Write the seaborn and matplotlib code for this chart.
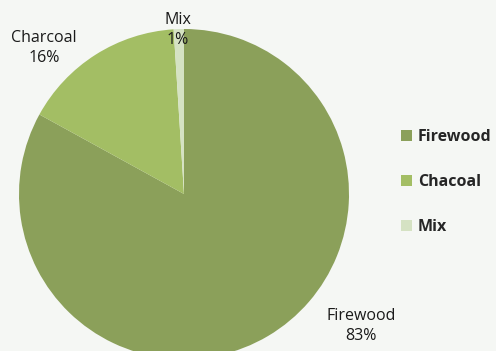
import matplotlib
matplotlib.use("Agg")
import matplotlib.pyplot as plt
import seaborn as sns
from matplotlib.patches import Patch

categories = ["Firewood", "Charcoal", "Mix"]
legend_labels = ["Firewood", "Chacoal", "Mix"]
values = [83, 16, 1]
pct_labels = ["83%", "16%", "1%"]
colors = ["#8ba05a", "#a3be64", "#d5e2c3"]

sns.set_theme(style="white")
plt.rcParams['font.family'] = ['Open Sans', 'DejaVu Sans']
bg = "#f5f7f4"

fig = plt.figure(figsize=(4.96, 3.51), dpi=100)
fig.patch.set_facecolor(bg)
ax = fig.add_axes([0, 0, 1, 1])
ax.set_facecolor(bg)

# pie drawn clockwise from 12 o'clock (y-axis inverted -> counterclock=True appears clockwise)
ax.pie(values, colors=colors, startangle=-90, counterclock=True,
       center=(184, 194), radius=165, frame=True,
       wedgeprops=dict(linewidth=0))
ax.set_xlim(0, 496)
ax.set_ylim(351, 0)
ax.set_aspect('equal')
ax.axis('off')

label_pos = [(361, 326), (44, 48), (178, 30)]
for cat, p, (x, y) in zip(categories, pct_labels, label_pos):
    ax.text(x, y, f"{cat}\n{p}", ha="center", va="center", fontsize=11.5,
            color="#1a1a1a", linespacing=1.3)

handles = [Patch(facecolor=c, edgecolor='none') for c in colors]
leg = ax.legend(handles, legend_labels, loc="center left",
                bbox_to_anchor=(396 / 496, 1 - 182 / 351),
                bbox_transform=fig.transFigure, frameon=False,
                prop=dict(weight='bold', size=11.5), labelspacing=1.8,
                handlelength=0.68, handleheight=0.68, handletextpad=0.4,
                borderaxespad=0, borderpad=0.3)

fig.savefig("out.png", dpi=100, facecolor=bg)
